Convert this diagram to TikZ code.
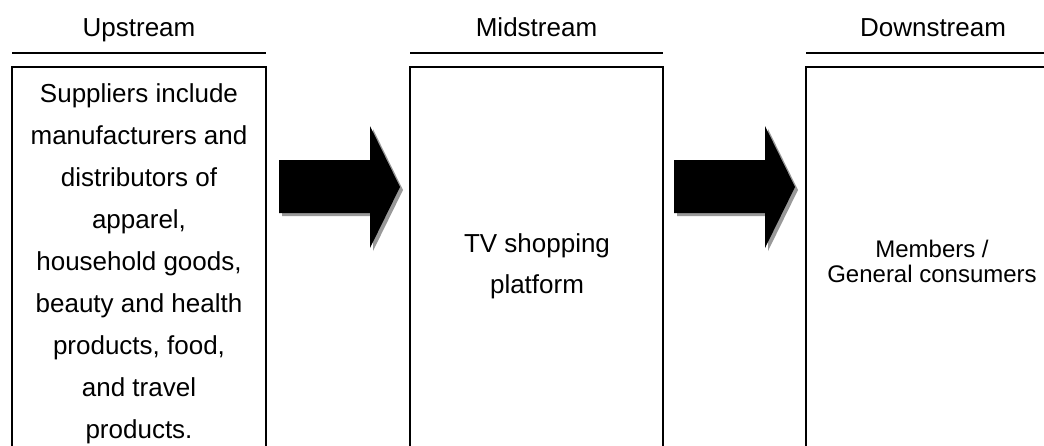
\documentclass[tikz,border=0pt]{standalone}
\usepackage{fontspec}
\setmainfont{Liberation Sans}
\begin{document}
\begin{tikzpicture}[x=1pt,y=-1pt,
  frame/.style={draw=black,line width=2pt},
  rule/.style={draw=black,line width=2pt},
  head/.style={inner sep=0pt,anchor=base,font=\fontsize{26}{30}\selectfont},
  body/.style={inner sep=0pt,anchor=base},
  bigarrow/.style={fill=black},
  arrowshade/.style={fill=black!40}]
\useasboundingbox (0,0) rectangle (1044,445);

% column headers with their rules
\node[head] (hup) at (139,36) {Upstream};
\node[head] (hmid) at (536.5,36) {Midstream};
\node[head] (hdown) at (933,36) {Downstream};
\draw[rule] (12,52.5) -- (266,52.5);
\draw[rule] (410,52.5) -- (663,52.5);
\draw[rule] (806,52.5) -- (1050,52.5);

% three boxes, running past the lower (and right) edge
\draw[frame] (12,460) -- (12,67) -- (266,67) -- (266,460);
\draw[frame] (410,460) -- (410,67) -- (663,67) -- (663,460);
\draw[frame] (806,460) -- (806,67) -- (1060,67) -- (1060,460);

% box texts
\node[body] (up) at (139,102) {\parbox[t]{250pt}{\centering\fontsize{26}{42}\selectfont
  Suppliers include\\ manufacturers and\\ distributors of\\ apparel,\\ household goods,\\
  beauty and health\\ products, food,\\ and travel\\ products.}};
\node[body] (mid) at (537,252) {\parbox[t]{250pt}{\centering\fontsize{26}{41}\selectfont
  TV shopping\\ platform}};
\node[body] (down) at (932,257) {\parbox[t]{250pt}{\centering\fontsize{24}{25.5}\selectfont
  Members /\\ General consumers}};

% block arrows with a soft grey drop shadow
\foreach \ax in {279,674}{
  \fill[arrowshade] (\ax+3,163) -- (\ax+94,163) -- (\ax+94,129) -- (\ax+124,190)
     -- (\ax+94,251) -- (\ax+94,216) -- (\ax+3,216) -- cycle;
  \fill[bigarrow] (\ax,160) -- (\ax+91,160) -- (\ax+91,126) -- (\ax+121,187)
     -- (\ax+91,248) -- (\ax+91,213) -- (\ax,213) -- cycle;
}
\end{tikzpicture}
\end{document}
